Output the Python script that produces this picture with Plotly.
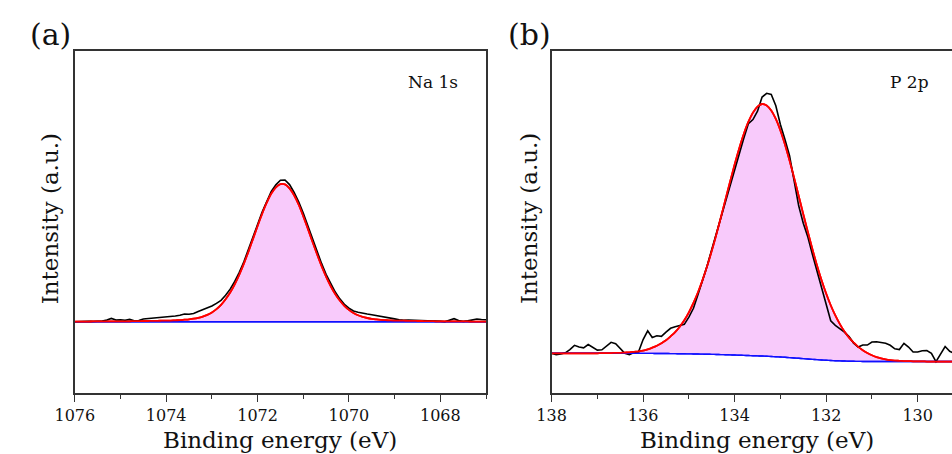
import plotly.graph_objects as go

# ---------------- data: (a) Na 1s ----------------
NA_E = [round(1076.0 - 0.1 * i, 1) for i in range(91)]  # binding energy grid, 1076.0 -> 1067.0
NA_RAW = [
    0, 2, 0, 3, 1, 2, 5, 12, 23, 12,
    14, 10, 16, 7, 8, 19, 22, 20, 23, 27,
    33, 35, 40, 45, 54, 52, 58, 72, 85, 95,
    110, 128, 150, 185, 228, 282, 345, 420, 502, 590,
    680, 768, 845, 912, 958, 990, 992, 960, 905, 840,
    760, 672, 580, 490, 408, 332, 265, 208, 160, 122,
    95, 75, 66, 58, 54, 49, 44, 40, 35, 28,
    20, 14, 10, 12, 11, 12, 10, 9, 8, 7,
    3, 0, 10, 21, 8, 2, 6, 14, 19, 15,
    14,
]
NA_PEAK = [
    1, 1, 1, 1, 2, 2, 2, 2, 2, 3,
    3, 3, 3, 4, 4, 5, 5, 6, 6, 7,
    8, 8, 10, 11, 14, 17, 21, 27, 36, 48,
    65, 88, 118, 157, 204, 262, 330, 407, 491, 580,
    670, 756, 833, 897, 941, 963, 961, 934, 885, 819,
    739, 652, 562, 474, 391, 316, 250, 194, 148, 111,
    83, 61, 45, 34, 26, 20, 16, 13, 11, 9,
    8, 8, 7, 6, 6, 5, 5, 4, 4, 3,
    3, 3, 2, 2, 2, 2, 2, 1, 1, 1,
    1,
]
NA_BG = [0] * 91

# ---------------- data: (b) P 2p ----------------
P_E = [round(138.0 - 0.1 * i, 1) for i in range(89)]  # 138.0 -> 129.2
P_RAW = [
    0, -5, -3, 2, 15, 32, 25, 22, 35, 25,
    13, 14, 30, 44, 38, 20, 0, -5, 3, 6,
    55, 90, 63, 70, 68, 85, 100, 106, 112, 116,
    145, 180, 235, 290, 350, 415, 478, 545, 610, 675,
    740, 800, 860, 918, 935, 968, 1025, 1040, 1035, 990,
    915, 855, 790, 690, 590, 520, 465, 395, 328, 270,
    195, 130, 112, 100, 85, 67, 40, 25, 33, 33,
    45, 46, 43, 40, 32, 18, 15, 40, 25, 5,
    5, 10, 11, 0, -33, 0, 27, 8, 0,
]
P_PEAK = [
    0, 0, 0, 0, 0, 0, 0, 0, 0, 0,
    0, 1, 1, 1, 2, 2, 3, 4, 6, 8,
    11, 16, 23, 31, 41, 53, 69, 86, 108, 134,
    166, 204, 247, 297, 353, 414, 480, 549, 621, 692,
    762, 827, 885, 934, 972, 997, 1008, 1003, 984, 951,
    906, 851, 788, 720, 649, 578, 508, 440, 377, 319,
    267, 221, 181, 147, 118, 94, 75, 58, 45, 34,
    25, 18, 13, 9, 6, 4, 3, 2, 2, 1,
    1, 1, 0, 0, 0, 0, 0, 0, 0,
]
P_BG = [
    0, 0, 0, 0, 0, 0, 0, 0, 0, 0,
    0, 0, 0, 0, 0, 0, 0, 0, 0, 0,
    -0.2, -0.3, -0.4, -0.5, -0.7, -0.9, -1.1, -1.3, -1.6, -1.9,
    -2.2, -2.5, -2.9, -3.3, -3.7, -4.1, -4.6, -5.1, -5.7, -6.3,
    -6.9, -7.5, -8.1, -8.8, -9.5, -10.2, -11.0, -11.8, -12.7, -13.7,
    -14.8, -16.0, -17.3, -18.6, -20.0, -21.4, -22.8, -24.1, -25.4, -26.6,
    -27.7, -28.7, -29.6, -30.4, -31.0, -31.5, -31.9, -32.2, -32.5, -32.7,
    -32.8, -32.9, -33, -33, -33, -33, -33, -33, -33, -33,
    -33, -33, -33, -33, -33, -33, -33, -33, -33,
]

NA_TICKS = [1076, 1074, 1072, 1070, 1068]
P_TICKS = [138, 136, 134, 132, 130]

FONT = "DejaVu Serif"
AXC = "#333333"
FILL = "#f8cafb"

NA_ENV = [b + p for b, p in zip(NA_BG, NA_PEAK)]
P_ENV = [b + p for b, p in zip(P_BG, P_PEAK)]

fig = go.Figure()


def add_panel(E, raw, bg, env, xa, ya):
    fig.add_trace(go.Scatter(x=E, y=bg, mode="lines", line=dict(color="#1010ff", width=1.4, shape="spline"),
                             xaxis=xa, yaxis=ya, hoverinfo="skip"))
    fig.add_trace(go.Scatter(x=E, y=env, mode="lines", fill="tonexty", fillcolor=FILL,
                             line=dict(color="red", width=1.8, shape="spline"),
                             xaxis=xa, yaxis=ya, hoverinfo="skip"))
    fig.add_trace(go.Scatter(x=E, y=raw, mode="lines", line=dict(color="black", width=1.6),
                             xaxis=xa, yaxis=ya))
    fig.add_trace(go.Scatter(x=E, y=bg, mode="lines", line=dict(color="#1010ff", width=1.4, shape="spline"),
                             xaxis=xa, yaxis=ya, hoverinfo="skip"))
    fig.add_trace(go.Scatter(x=E, y=env, mode="lines", line=dict(color="red", width=1.8, shape="spline"),
                             xaxis=xa, yaxis=ya, hoverinfo="skip"))


add_panel(NA_E, NA_RAW, NA_BG, NA_ENV, "x", "y")
add_panel(P_E, P_RAW, P_BG, P_ENV, "x2", "y2")

W, H = 952, 454
top_px, bot_px = 51, 393
ydom = [(H - bot_px) / H, (H - top_px) / H]

common_x = dict(showline=True, linecolor=AXC, linewidth=1.5, mirror=True, ticks="outside", ticklen=7,
                tickwidth=1.4, tickcolor=AXC, showgrid=False, zeroline=False,
                tickfont=dict(family=FONT, size=16, color="#111"))
common_y = dict(showline=True, linecolor=AXC, linewidth=1.5, showticklabels=False, ticks="",
                showgrid=False, zeroline=False)

fig.update_layout(
    width=W, height=H, margin=dict(l=0, r=0, t=0, b=0),
    paper_bgcolor="white", plot_bgcolor="white", showlegend=False,
    xaxis=dict(domain=[56 / W, 476 / W], range=[1076, 1067], tickvals=NA_TICKS,
               minor=dict(ticks="outside", ticklen=4, tickwidth=1.4, tickcolor=AXC, dtick=1, tick0=1067),
               anchor="y", **common_x),
    yaxis=dict(domain=ydom, range=[-499, 1895], mirror=True, anchor="x", **common_y),
    xaxis2=dict(domain=[543 / W, 1.0], range=[138, 129.25], tickvals=P_TICKS,
                minor=dict(ticks="outside", ticklen=4, tickwidth=1.4, tickcolor=AXC, dtick=1, tick0=129),
                anchor="y2", **common_x),
    yaxis2=dict(domain=ydom, range=[-158.7, 1209], mirror=False, anchor="x2", **common_y),
)


def px_x(x):
    return x / W


def px_y(y):
    return (H - y) / H


ann = [
    dict(text="(a)", x=px_x(31), y=px_y(34), size=30),
    dict(text="(b)", x=px_x(520), y=px_y(34), size=30),
    dict(text="Na 1s", x=px_x(422), y=px_y(82), size=17),
    dict(text="P 2p", x=px_x(909), y=px_y(82), size=17),
    dict(text="Binding energy (eV)", x=px_x(266), y=px_y(440), size=23),
    dict(text="Binding energy (eV)", x=px_x(753), y=px_y(440), size=23),
    dict(text="Intensity (a.u.)", x=px_x(31), y=px_y(219), size=23, rot=-90),
    dict(text="Intensity (a.u.)", x=px_x(520), y=px_y(219), size=23, rot=-90),
]
for a in ann:
    fig.add_annotation(text=a["text"], x=a["x"], y=a["y"], xref="paper", yref="paper",
                       xanchor="center", yanchor="middle", showarrow=False,
                       textangle=a.get("rot", 0),
                       font=dict(family=FONT, size=a["size"], color="#111"))

fig.write_html("out.html")
